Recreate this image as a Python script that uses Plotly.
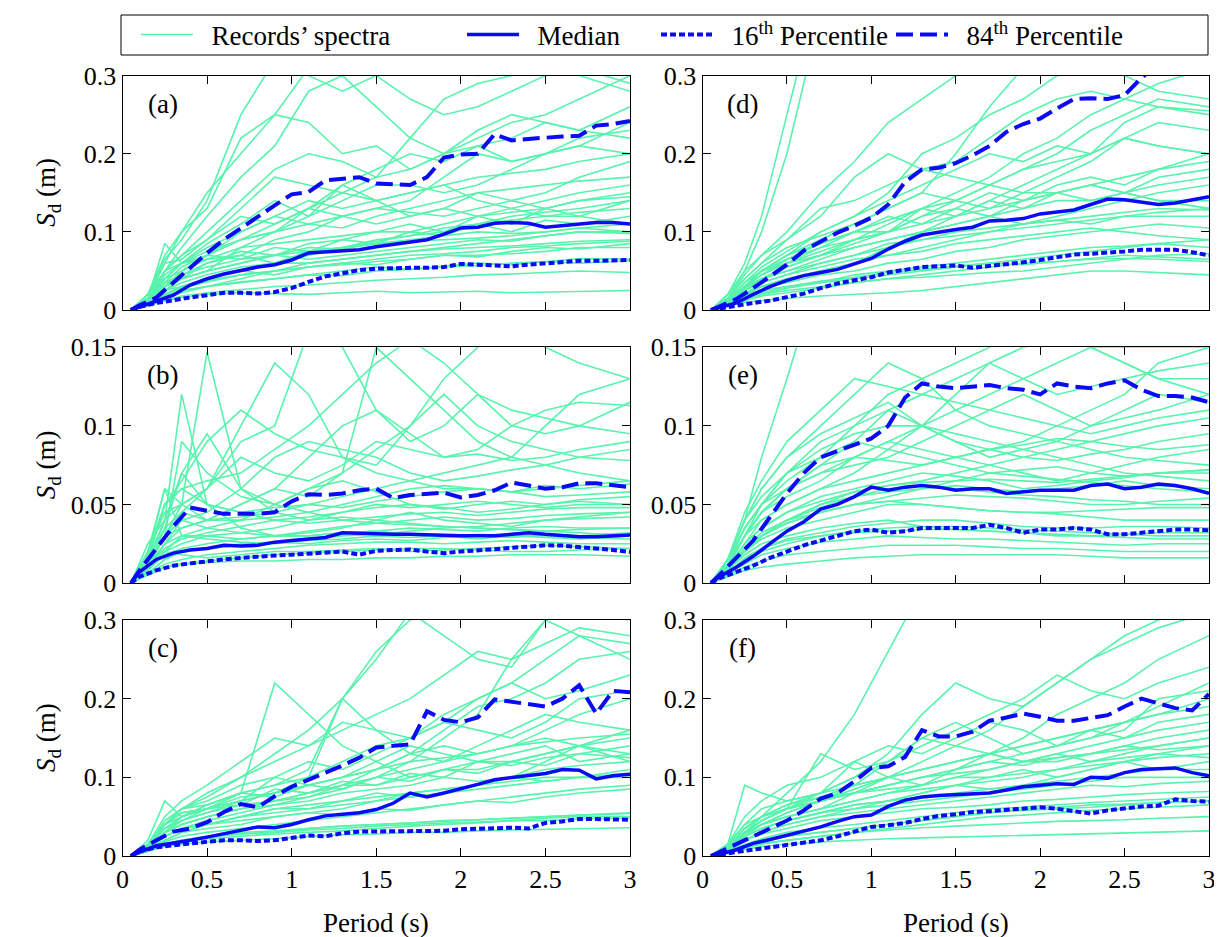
import plotly.graph_objects as go

# ---------------- data ----------------
T_P = [0.05, 0.1, 0.2, 0.3, 0.4, 0.5, 0.6, 0.7, 0.8, 0.9, 1.0, 1.1, 1.2, 1.3, 1.4, 1.5,
       1.6, 1.7, 1.8, 1.9, 2.0, 2.1, 2.2, 2.3, 2.4, 2.5, 2.6, 2.7, 2.8, 2.9, 3.0]
T_REC = [0.05, 0.15, 0.25, 0.35, 0.5, 0.7, 0.9, 1.1, 1.3, 1.5, 1.7, 1.9, 2.1, 2.3, 2.5, 2.7, 3.0]

MED_A = [0, .004, .011, .019, .032, .04, .046, .051, .055, .058, .064, .073, .074, .075, .077, .081,
         .084, .087, .09, .097, .105, .106, .111, .112, .111, .106, .108, .111, .112, .112, .11]
P16_A = [0, .004, .009, .013, .016, .019, .022, .022, .021, .023, .028, .036, .043, .047, .051, .053,
         .054, .054, .054, .055, .059, .058, .056, .056, .058, .06, .062, .063, .063, .064, .064]
P84_A = [0, .006, .016, .035, .055, .073, .09, .105, .12, .134, .148, .151, .166, .168, .17, .162,
         .161, .16, .17, .195, .199, .2, .225, .217, .219, .221, .222, .223, .236, .238, .242]

MED_B = [0, .007, .015, .019, .021, .022, .024, .0235, .024, .026, .027, .028, .029, .032, .0315, .031,
         .031, .031, .0305, .03, .03, .03, .03, .031, .032, .031, .03, .0295, .0295, .03, .0305]
P16_B = [0, .004, .008, .011, .0125, .014, .015, .016, .017, .0175, .018, .0185, .019, .02, .018, .0205,
         .021, .0213, .02, .019, .02, .0205, .0215, .0224, .0235, .024, .0238, .023, .0222, .021, .0198]
P84_B = [0, .008, .022, .036, .048, .046, .044, .044, .044, .045, .052, .0565, .056, .057, .059, .06,
         .054, .056, .057, .0575, .0545, .056, .059, .064, .062, .06, .061, .0635, .0635, .062, .061]

MED_C = [0, .005, .013, .016, .02, .024, .028, .033, .037, .036, .04, .046, .051, .053, .055, .059,
         .067, .08, .075, .08, .085, .091, .097, .1, .102, .105, .11, .109, .098, .102, .104]
P16_C = [0, .006, .011, .014, .016, .018, .02, .02, .019, .02, .023, .026, .025, .029, .031, .031,
         .032, .032, .032, .032, .034, .035, .036, .036, .035, .042, .044, .047, .047, .046, .046]
P84_C = [0, .008, .02, .031, .035, .043, .056, .066, .062, .076, .088, .097, .105, .115, .125, .138,
         .14, .142, .184, .173, .17, .176, .199, .196, .192, .19, .2, .217, .181, .21, .208]

MED_D = [0, .003, .009, .02, .03, .038, .044, .048, .052, .059, .066, .078, .088, .096, .1, .103,
         .106, .114, .115, .117, .123, .126, .128, .135, .142, .141, .138, .135, .137, .141, .145]
P16_D = [0, .002, .006, .009, .012, .016, .021, .028, .034, .038, .042, .048, .052, .055, .056, .057,
         .054, .056, .058, .061, .064, .068, .071, .072, .073, .075, .077, .077, .077, .074, .07]
P84_D = [0, .005, .014, .028, .043, .058, .076, .088, .099, .108, .118, .135, .164, .18, .182, .188,
         .198, .21, .228, .238, .245, .258, .27, .271, .27, .275, .297, .315, .325, .33, .335]

MED_E = [0, .004, .01, .017, .025, .033, .039, .047, .05, .055, .061, .059, .061, .062, .061, .059,
         .06, .06, .057, .058, .059, .059, .059, .062, .063, .06, .061, .063, .062, .06, .057]
P16_E = [0, .003, .007, .011, .016, .02, .024, .027, .03, .033, .034, .032, .033, .035, .035, .035,
         .035, .037, .035, .032, .034, .034, .035, .034, .031, .031, .032, .033, .034, .034, .0335]
P84_E = [0, .005, .016, .027, .042, .057, .07, .08, .084, .088, .092, .1, .118, .127, .125, .124,
         .125, .126, .124, .123, .12, .127, .125, .124, .127, .129, .123, .119, .119, .118, .115]

MED_F = [0, .002, .008, .016, .021, .026, .031, .037, .044, .05, .052, .063, .071, .075, .077, .078,
         .079, .08, .084, .088, .09, .092, .091, .1, .099, .106, .11, .111, .112, .106, .102]
P16_F = [0, .002, .005, .008, .011, .014, .017, .02, .025, .031, .037, .039, .042, .047, .051, .053,
         .056, .057, .059, .06, .062, .06, .057, .054, .058, .061, .063, .064, .072, .07, .069]
P84_F = [0, .005, .014, .024, .035, .045, .058, .073, .08, .095, .112, .114, .126, .16, .152, .152,
         .158, .172, .176, .181, .177, .172, .172, .176, .179, .19, .2, .194, .188, .185, .206]

REC_A = [
    [0, .006, .012, .016, .02, .022, .021, .02, .022, .024, .022, .023, .024, .022, .023, .024, .025],
    [0, .005, .012, .018, .022, .026, .03, .032, .035, .038, .04, .042, .045, .046, .048, .05, .048],
    [0, .008, .018, .025, .03, .035, .04, .045, .05, .055, .052, .056, .06, .058, .062, .066, .065],
    [0, .01, .02, .028, .036, .045, .05, .06, .065, .07, .075, .078, .08, .082, .085, .088, .09],
    [0, .012, .025, .04, .05, .06, .07, .08, .078, .085, .09, .095, .1, .098, .1, .105, .1],
    [0, .015, .085, .06, .065, .07, .06, .075, .08, .088, .095, .1, .11, .115, .12, .125, .13],
    [0, .01, .03, .05, .065, .08, .085, .09, .095, .1, .1, .11, .12, .125, .13, .14, .145],
    [0, .012, .04, .06, .08, .1, .12, .11, .105, .12, .13, .14, .15, .155, .16, .165, .17],
    [0, .02, .05, .07, .09, .13, .17, .16, .15, .14, .15, .16, .17, .175, .18, .19, .2],
    [0, .015, .05, .08, .12, .17, .21, .28, .3, .26, .22, .2, .21, .22, .24, .23, .22],
    [0, .02, .06, .1, .15, .2, .25, .31, .33, .35, .34, .32, .3, .31, .33, .34, .35],
    [0, .01, .03, .045, .06, .07, .09, .1, .12, .13, .125, .12, .13, .14, .15, .17, .19],
    [0, .008, .025, .035, .045, .055, .06, .07, .08, .09, .095, .105, .11, .12, .125, .13, .14],
    [0, .01, .03, .04, .05, .08, .1, .13, .15, .17, .22, .27, .29, .3, .32, .3, .28],
    [0, .012, .035, .055, .07, .09, .11, .13, .16, .14, .12, .13, .15, .14, .13, .14, .15],
    [0, .006, .015, .022, .03, .04, .05, .055, .06, .065, .07, .072, .075, .08, .082, .085, .088],
    [0, .015, .04, .06, .075, .09, .1, .11, .12, .13, .14, .17, .2, .19, .2, .21, .24],
    [0, .012, .05, .07, .1, .14, .18, .2, .19, .17, .18, .2, .23, .25, .24, .23, .26],
    [0, .008, .02, .03, .038, .045, .05, .055, .058, .062, .065, .07, .07, .072, .075, .08, .08],
    [0, .01, .03, .05, .07, .1, .12, .14, .13, .14, .15, .16, .14, .13, .12, .12, .11],
    [0, .02, .07, .1, .13, .22, .25, .24, .2, .21, .18, .2, .22, .24, .25, .27, .3],
    [0, .01, .035, .045, .055, .065, .07, .075, .08, .085, .088, .09, .092, .095, .1, .105, .11],
    [0, .007, .02, .03, .04, .05, .06, .06, .065, .07, .075, .08, .085, .09, .095, .1, .1],
    [0, .012, .045, .06, .07, .09, .1, .12, .14, .16, .16, .15, .16, .18, .2, .22, .23],
    [0, .01, .03, .04, .06, .075, .07, .085, .09, .1, .11, .1, .12, .11, .13, .12, .14],
    [0, .012, .04, .05, .07, .065, .08, .075, .09, .085, .1, .095, .11, .1, .115, .11, .12],
    [0, .008, .025, .03, .04, .05, .045, .055, .06, .058, .065, .07, .068, .075, .08, .078, .085],
    [0, .015, .06, .065, .09, .12, .11, .13, .12, .11, .12, .13, .12, .13, .14, .15, .16],
    [0, .01, .035, .04, .05, .06, .07, .065, .07, .075, .08, .085, .09, .088, .095, .1, .098],
    [0, .02, .065, .09, .14, .25, .32, .3, .28, .3, .27, .25, .26, .28, .3, .31, .29],
    [0, .006, .018, .025, .03, .036, .04, .045, .044, .05, .052, .055, .057, .06, .062, .06, .063],
    [0, .012, .05, .06, .085, .11, .14, .12, .16, .18, .2, .19, .21, .19, .2, .21, .2],
]
REC_B = [
    [0, .006, .01, .012, .013, .014, .014, .015, .015, .016, .016, .017, .017, .018, .018, .018, .017],
    [0, .01, .02, .018, .016, .018, .02, .02, .021, .022, .02, .021, .022, .023, .024, .023, .022],
    [0, .02, .06, .03, .028, .026, .025, .027, .028, .03, .029, .03, .031, .03, .029, .028, .03],
    [0, .015, .04, .12, .05, .035, .03, .03, .032, .033, .031, .03, .028, .03, .03, .029, .028],
    [0, .025, .04, .05, .147, .06, .045, .04, .042, .04, .038, .036, .035, .034, .033, .034, .035],
    [0, .01, .025, .035, .04, .05, .06, .08, .1, .11, .095, .08, .085, .1, .11, .115, .113],
    [0, .012, .03, .045, .06, .1, .14, .12, .08, .07, .065, .06, .06, .058, .055, .056, .058],
    [0, .008, .02, .03, .035, .04, .05, .06, .07, .15, .13, .11, .09, .08, .075, .07, .065],
    [0, .015, .05, .06, .05, .045, .048, .05, .055, .06, .065, .07, .075, .08, .1, .12, .13],
    [0, .01, .025, .03, .03, .032, .035, .04, .045, .05, .048, .05, .052, .05, .048, .05, .05],
    [0, .006, .015, .02, .022, .025, .026, .028, .03, .031, .033, .035, .036, .038, .04, .041, .042],
    [0, .02, .045, .05, .06, .09, .1, .16, .15, .11, .09, .1, .12, .1, .095, .1, .115],
    [0, .008, .018, .022, .025, .028, .03, .03, .032, .033, .035, .034, .033, .035, .036, .035, .035],
    [0, .012, .03, .035, .04, .04, .042, .045, .05, .055, .06, .062, .06, .058, .06, .062, .065],
    [0, .015, .035, .07, .095, .06, .05, .045, .04, .038, .037, .036, .035, .034, .033, .032, .03],
    [0, .006, .012, .015, .018, .02, .022, .024, .025, .026, .026, .025, .026, .027, .026, .025, .025],
    [0, .01, .03, .04, .045, .06, .08, .09, .085, .08, .07, .065, .068, .072, .075, .08, .085],
    [0, .008, .02, .025, .03, .028, .03, .032, .035, .04, .045, .04, .038, .036, .04, .042, .045],
    [0, .018, .06, .05, .04, .05, .06, .055, .07, .085, .1, .13, .15, .16, .15, .14, .13],
    [0, .005, .01, .012, .014, .016, .018, .019, .02, .021, .022, .022, .021, .02, .02, .021, .022],
    [0, .012, .03, .09, .07, .055, .05, .06, .065, .058, .05, .048, .045, .047, .05, .052, .05],
    [0, .01, .022, .028, .032, .036, .04, .038, .04, .042, .044, .045, .043, .045, .047, .048, .048],
    [0, .012, .04, .07, .05, .045, .04, .042, .045, .048, .05, .047, .05, .052, .05, .053, .055],
    [0, .01, .03, .05, .06, .08, .07, .065, .075, .09, .085, .08, .082, .078, .08, .085, .09],
    [0, .008, .025, .04, .035, .032, .03, .033, .036, .038, .04, .042, .04, .041, .043, .044, .045],
    [0, .015, .05, .065, .09, .11, .095, .085, .08, .075, .1, .12, .1, .09, .085, .08, .078],
    [0, .006, .015, .02, .022, .024, .026, .025, .027, .028, .027, .029, .03, .029, .031, .03, .032],
    [0, .02, .05, .06, .065, .07, .085, .1, .12, .14, .155, .14, .12, .11, .105, .1, .095],
    [0, .01, .035, .045, .04, .042, .045, .05, .048, .052, .055, .058, .06, .058, .062, .06, .063],
]
REC_C = [
    [0, .006, .012, .015, .018, .02, .022, .025, .027, .028, .03, .03, .032, .033, .034, .035, .036],
    [0, .008, .015, .02, .025, .028, .03, .035, .038, .04, .042, .045, .046, .048, .05, .052, .055],
    [0, .01, .025, .035, .04, .05, .06, .065, .07, .075, .08, .085, .09, .095, .1, .1, .1],
    [0, .02, .07, .05, .06, .08, .22, .18, .14, .12, .1, .11, .12, .13, .14, .12, .13],
    [0, .012, .03, .04, .05, .06, .07, .08, .09, .1, .11, .12, .13, .14, .15, .14, .13],
    [0, .015, .04, .06, .08, .1, .13, .16, .2, .26, .3, .32, .34, .33, .32, .31, .3],
    [0, .01, .03, .045, .06, .07, .08, .1, .12, .14, .15, .17, .2, .22, .2, .21, .23],
    [0, .01, .025, .035, .045, .055, .065, .075, .09, .11, .13, .16, .19, .2, .22, .25, .26],
    [0, .012, .035, .05, .065, .08, .09, .11, .2, .25, .31, .28, .25, .24, .3, .32, .33],
    [0, .008, .02, .03, .035, .04, .05, .055, .06, .07, .08, .085, .09, .1, .12, .14, .15],
    [0, .006, .015, .02, .022, .025, .028, .03, .032, .035, .038, .04, .042, .045, .045, .047, .048],
    [0, .015, .04, .06, .07, .09, .1, .12, .11, .13, .15, .17, .16, .15, .17, .2, .21],
    [0, .01, .03, .04, .05, .06, .07, .08, .09, .09, .1, .11, .11, .12, .13, .14, .16],
    [0, .012, .045, .06, .075, .1, .12, .14, .17, .16, .15, .18, .2, .22, .25, .28, .27],
    [0, .008, .018, .025, .03, .035, .04, .045, .05, .055, .06, .065, .07, .075, .08, .085, .09],
    [0, .012, .04, .06, .065, .08, .09, .1, .2, .16, .13, .12, .14, .16, .18, .17, .16],
    [0, .01, .03, .05, .06, .07, .08, .09, .1, .12, .14, .13, .12, .12, .13, .14, .12],
    [0, .006, .015, .02, .024, .028, .03, .033, .035, .038, .04, .042, .043, .045, .048, .05, .05],
    [0, .014, .04, .055, .06, .065, .07, .075, .085, .1, .12, .15, .18, .25, .3, .28, .25],
    [0, .01, .025, .035, .04, .05, .06, .06, .07, .08, .075, .08, .09, .1, .095, .1, .11],
    [0, .012, .03, .045, .055, .07, .1, .09, .1, .11, .13, .14, .13, .14, .16, .18, .2],
    [0, .01, .02, .03, .04, .05, .055, .06, .065, .07, .075, .08, .085, .09, .095, .1, .105],
    [0, .01, .04, .05, .065, .08, .075, .09, .085, .1, .095, .11, .105, .12, .115, .13, .125],
    [0, .012, .035, .045, .055, .065, .085, .08, .095, .09, .105, .1, .12, .115, .125, .13, .14],
    [0, .008, .025, .035, .04, .045, .05, .055, .052, .06, .058, .065, .07, .068, .075, .08, .085],
    [0, .015, .05, .07, .09, .12, .15, .14, .16, .18, .2, .23, .26, .25, .27, .29, .28],
    [0, .01, .03, .04, .05, .06, .065, .07, .08, .085, .09, .1, .095, .1, .11, .115, .12],
    [0, .012, .04, .055, .06, .075, .08, .09, .1, .11, .12, .125, .13, .14, .145, .15, .155],
    [0, .006, .015, .02, .025, .03, .032, .035, .038, .04, .042, .044, .046, .048, .05, .052, .054],
]
REC_D = [
    [0, .005, .01, .012, .015, .018, .02, .022, .025, .03, .035, .04, .045, .05, .05, .048, .045],
    [0, .006, .012, .018, .022, .028, .035, .04, .045, .05, .055, .06, .062, .065, .066, .065, .062],
    [0, .008, .015, .025, .03, .035, .045, .05, .055, .06, .065, .07, .075, .08, .082, .085, .08],
    [0, .02, .06, .12, .25, .42, .45, .45, .45, .45, .45, .45, .45, .45, .45, .45, .45],
    [0, .015, .05, .1, .2, .38, .45, .45, .45, .45, .45, .45, .45, .45, .45, .45, .45],
    [0, .012, .03, .05, .07, .1, .12, .15, .2, .22, .25, .27, .3, .31, .3, .28, .27],
    [0, .01, .025, .04, .055, .07, .09, .11, .13, .15, .17, .2, .22, .25, .27, .29, .31],
    [0, .01, .02, .03, .04, .05, .06, .08, .1, .12, .13, .14, .15, .16, .15, .14, .13],
    [0, .012, .03, .045, .06, .08, .1, .12, .11, .12, .14, .16, .18, .2, .22, .21, .2],
    [0, .008, .018, .03, .04, .05, .06, .07, .08, .09, .1, .11, .115, .12, .125, .13, .128],
    [0, .015, .04, .06, .09, .12, .17, .2, .18, .19, .22, .25, .27, .28, .27, .26, .25],
    [0, .01, .025, .035, .045, .06, .07, .08, .09, .095, .1, .105, .11, .115, .12, .12, .12],
    [0, .012, .035, .05, .065, .085, .1, .1, .12, .14, .16, .18, .19, .2, .24, .26, .255],
    [0, .006, .014, .02, .025, .03, .035, .04, .042, .045, .048, .05, .055, .06, .065, .07, .072],
    [0, .01, .03, .05, .07, .09, .11, .13, .15, .2, .26, .31, .33, .34, .35, .36, .36],
    [0, .012, .03, .05, .06, .07, .08, .09, .1, .11, .12, .14, .15, .16, .17, .18, .19],
    [0, .015, .045, .07, .09, .13, .14, .16, .18, .17, .16, .15, .15, .14, .15, .16, .17],
    [0, .008, .02, .03, .035, .045, .05, .06, .065, .075, .08, .09, .095, .1, .105, .11, .105],
    [0, .01, .03, .045, .06, .075, .09, .1, .11, .13, .12, .11, .12, .13, .14, .15, .16],
    [0, .02, .05, .07, .1, .15, .19, .24, .27, .3, .32, .33, .34, .34, .33, .32, .31],
    [0, .007, .015, .02, .028, .035, .04, .045, .05, .055, .06, .065, .07, .075, .08, .085, .09],
    [0, .01, .025, .04, .05, .065, .08, .09, .1, .11, .12, .13, .14, .14, .15, .14, .14],
    [0, .012, .03, .04, .055, .07, .085, .1, .13, .14, .13, .15, .17, .19, .22, .24, .23],
    [0, .01, .03, .05, .07, .085, .1, .115, .13, .12, .14, .13, .15, .16, .15, .17, .18],
    [0, .012, .035, .055, .075, .1, .12, .14, .16, .18, .2, .19, .21, .2, .22, .21, .2],
    [0, .008, .02, .035, .045, .055, .065, .07, .075, .085, .09, .095, .1, .105, .1, .095, .09],
    [0, .015, .04, .06, .08, .095, .11, .13, .15, .14, .16, .18, .2, .23, .25, .27, .26],
    [0, .01, .028, .04, .05, .06, .07, .085, .09, .1, .105, .11, .115, .11, .12, .125, .13],
    [0, .012, .03, .045, .065, .08, .09, .1, .12, .13, .15, .14, .16, .17, .16, .18, .2],
    [0, .006, .015, .022, .03, .037, .042, .048, .052, .056, .06, .058, .062, .066, .07, .068, .065],
]
REC_E = [
    [0, .004, .008, .01, .012, .014, .016, .017, .018, .018, .018, .018, .018, .017, .016, .016, .016],
    [0, .005, .01, .014, .018, .02, .022, .024, .024, .024, .023, .022, .022, .021, .02, .02, .02],
    [0, .006, .012, .018, .022, .026, .028, .03, .029, .028, .028, .027, .026, .025, .024, .025, .025],
    [0, .008, .018, .025, .03, .035, .038, .04, .036, .034, .033, .032, .03, .03, .031, .032, .032],
    [0, .01, .02, .03, .04, .045, .05, .052, .05, .048, .046, .045, .044, .042, .04, .04, .04],
    [0, .015, .04, .08, .13, .2, .22, .22, .22, .22, .22, .22, .22, .22, .22, .22, .22],
    [0, .015, .035, .05, .065, .08, .1, .12, .13, .14, .15, .16, .155, .15, .14, .13, .12],
    [0, .012, .03, .045, .06, .075, .09, .11, .1, .09, .08, .085, .09, .1, .11, .12, .115],
    [0, .01, .025, .035, .045, .055, .06, .065, .07, .068, .065, .06, .062, .065, .067, .07, .072],
    [0, .01, .02, .03, .04, .05, .055, .06, .062, .06, .058, .056, .055, .053, .052, .05, .05],
    [0, .015, .04, .06, .08, .1, .12, .14, .13, .11, .1, .095, .09, .085, .08, .078, .075],
    [0, .01, .03, .04, .05, .06, .07, .085, .1, .12, .14, .15, .155, .15, .14, .13, .13],
    [0, .012, .03, .045, .055, .065, .08, .09, .085, .08, .075, .07, .065, .07, .075, .08, .085],
    [0, .008, .02, .028, .035, .04, .045, .05, .05, .048, .046, .045, .045, .046, .047, .048, .048],
    [0, .01, .025, .04, .05, .06, .065, .07, .075, .08, .085, .09, .1, .11, .12, .14, .15],
    [0, .007, .015, .022, .028, .032, .036, .038, .04, .04, .038, .036, .035, .035, .036, .036, .035],
    [0, .012, .035, .05, .07, .09, .1, .11, .12, .115, .11, .105, .1, .095, .1, .105, .11],
    [0, .01, .02, .03, .04, .048, .055, .058, .06, .062, .06, .058, .06, .062, .065, .062, .06],
    [0, .015, .04, .055, .07, .085, .095, .1, .1, .095, .09, .085, .08, .075, .07, .068, .065],
    [0, .006, .014, .02, .025, .03, .033, .035, .036, .036, .035, .034, .033, .032, .031, .03, .03],
    [0, .012, .03, .05, .06, .07, .08, .09, .1, .11, .12, .13, .14, .15, .15, .15, .15],
    [0, .008, .02, .03, .038, .045, .05, .055, .06, .065, .07, .068, .066, .064, .062, .06, .058],
    [0, .01, .022, .032, .04, .05, .058, .062, .065, .07, .075, .08, .085, .09, .095, .1, .105],
    [0, .012, .035, .05, .07, .08, .09, .085, .08, .075, .07, .072, .074, .07, .068, .07, .072],
    [0, .01, .03, .045, .06, .07, .075, .08, .09, .1, .11, .12, .11, .1, .105, .11, .12],
    [0, .015, .045, .065, .09, .11, .13, .125, .12, .13, .14, .13, .12, .125, .13, .135, .14],
    [0, .008, .022, .03, .038, .045, .05, .052, .054, .056, .055, .054, .052, .05, .05, .052, .054],
    [0, .012, .03, .045, .06, .075, .08, .078, .075, .08, .085, .08, .078, .082, .085, .09, .095],
    [0, .01, .025, .035, .045, .052, .058, .062, .064, .065, .066, .065, .064, .066, .068, .07, .07],
    [0, .006, .016, .022, .027, .03, .032, .033, .034, .034, .033, .032, .031, .03, .029, .028, .028],
    [0, .015, .04, .06, .08, .095, .105, .115, .1, .09, .085, .088, .092, .09, .087, .085, .088],
]
REC_F = [
    [0, .004, .008, .012, .015, .018, .02, .022, .023, .024, .025, .026, .027, .028, .029, .03, .032],
    [0, .005, .01, .015, .02, .025, .03, .033, .036, .038, .04, .042, .044, .045, .046, .048, .05],
    [0, .006, .012, .018, .025, .03, .035, .04, .045, .05, .055, .058, .06, .062, .065, .068, .07],
    [0, .01, .03, .05, .08, .12, .18, .26, .34, .4, .42, .42, .42, .42, .42, .42, .42],
    [0, .015, .09, .08, .07, .08, .09, .1, .11, .12, .13, .14, .15, .16, .17, .18, .2],
    [0, .012, .03, .045, .06, .075, .09, .1, .11, .12, .13, .14, .15, .16, .17, .18, .19],
    [0, .01, .025, .04, .055, .07, .08, .09, .1, .11, .12, .13, .14, .15, .16, .2, .21],
    [0, .015, .04, .06, .07, .08, .12, .1, .09, .11, .13, .15, .18, .2, .22, .25, .28],
    [0, .01, .03, .045, .06, .13, .11, .12, .15, .14, .13, .12, .12, .13, .14, .15, .16],
    [0, .008, .02, .03, .04, .05, .06, .065, .07, .075, .08, .085, .09, .095, .1, .1, .1],
    [0, .012, .035, .05, .065, .08, .1, .13, .18, .22, .2, .19, .22, .25, .28, .3, .32],
    [0, .01, .025, .035, .045, .055, .065, .07, .075, .08, .085, .09, .095, .1, .105, .11, .12],
    [0, .012, .03, .04, .05, .06, .08, .1, .12, .14, .16, .19, .22, .25, .27, .29, .31],
    [0, .008, .02, .028, .035, .045, .05, .055, .06, .062, .065, .07, .072, .075, .078, .08, .082],
    [0, .01, .03, .04, .055, .07, .08, .09, .1, .105, .11, .12, .125, .13, .135, .14, .15],
    [0, .015, .04, .05, .06, .07, .09, .12, .15, .17, .15, .13, .14, .16, .15, .17, .18],
    [0, .007, .015, .022, .03, .036, .04, .045, .05, .055, .06, .062, .065, .068, .07, .072, .075],
    [0, .012, .035, .05, .06, .08, .1, .12, .14, .16, .18, .2, .23, .21, .2, .22, .24],
    [0, .01, .025, .035, .045, .055, .06, .07, .08, .09, .095, .1, .11, .115, .12, .125, .13],
    [0, .012, .03, .045, .06, .07, .08, .085, .09, .1, .1, .11, .1, .11, .12, .11, .11],
    [0, .006, .012, .016, .02, .025, .03, .035, .04, .045, .05, .052, .055, .058, .06, .062, .065],
    [0, .01, .028, .04, .05, .06, .07, .08, .09, .1, .11, .12, .13, .14, .15, .16, .17],
    [0, .012, .035, .05, .065, .075, .08, .09, .1, .11, .12, .115, .125, .13, .14, .135, .14],
    [0, .01, .03, .04, .05, .06, .07, .08, .085, .09, .1, .105, .11, .12, .125, .13, .14],
    [0, .008, .02, .03, .04, .05, .055, .06, .065, .07, .075, .08, .085, .09, .088, .092, .095],
    [0, .015, .05, .07, .09, .1, .12, .14, .13, .15, .17, .16, .14, .15, .17, .19, .22],
    [0, .01, .025, .035, .045, .055, .065, .07, .08, .09, .085, .09, .1, .11, .12, .13, .125],
    [0, .012, .03, .045, .06, .07, .085, .1, .11, .12, .13, .12, .13, .12, .13, .14, .15],
    [0, .006, .014, .02, .025, .03, .035, .04, .045, .05, .055, .06, .062, .065, .066, .068, .07],
]

PANEL_LABELS = ["(a)", "(b)", "(c)", "(d)", "(e)", "(f)"]
Y_MAX = [0.3, 0.15, 0.3, 0.3, 0.15, 0.3]
Y_DTICK = [0.1, 0.05, 0.1, 0.1, 0.05, 0.1]
X_TICKS = [0, 0.5, 1, 1.5, 2, 2.5, 3]
LEGEND_NAMES = ["\u00a0\u00a0Records’ spectra", "\u00a0\u00a0Median",
                "\u00a0\u00a016<sup>th</sup> Percentile", "\u00a0\u00a084<sup>th</sup> Percentile"]

# ---------------- styling ----------------
W, H = 1222, 937
FONT = "Liberation Serif"
REC_COLOR = "rgb(88,243,172)"
BLUE = "rgb(10,10,245)"
TICK_SIZE = 26
TEXT_SIZE = 27

COL_X = [(114.5, 622.0), (694.5, 1201.0)]
ROW_Y = [(67.6, 302.0), (339.3, 575.0), (612.0, 848.0)]

panels = [
    (REC_A, MED_A, P16_A, P84_A),
    (REC_B, MED_B, P16_B, P84_B),
    (REC_C, MED_C, P16_C, P84_C),
    (REC_D, MED_D, P16_D, P84_D),
    (REC_E, MED_E, P16_E, P84_E),
    (REC_F, MED_F, P16_F, P84_F),
]

fig = go.Figure()
layout = dict(
    template="none",
    width=W, height=H,
    margin=dict(l=0, r=0, t=0, b=0, autoexpand=False),
    paper_bgcolor="white", plot_bgcolor="white",
    font=dict(family=FONT, size=TEXT_SIZE, color="black"),
    showlegend=True,
)
annotations = []

for i, (recs, med, p16, p84) in enumerate(panels):
    col, row = i // 3, i % 3
    n = "" if i == 0 else str(i + 1)
    xref, yref = "x" + n, "y" + n
    x0, x1 = COL_X[col]
    ytop, ybot = ROW_Y[row]
    layout["xaxis" + n] = dict(
        domain=[x0 / W, x1 / W], anchor=yref, range=[0, 3], automargin=False,
        tickvals=X_TICKS, ticks="inside", ticklen=8, tickwidth=1, tickcolor="black",
        showline=True, linecolor="black", linewidth=1.2, mirror="ticks",
        showgrid=False, zeroline=False, showticklabels=(row == 2),
        tickfont=dict(family=FONT, size=TICK_SIZE, color="black"),
    )
    layout["yaxis" + n] = dict(
        domain=[1 - ybot / H, 1 - ytop / H], anchor=xref, range=[0, Y_MAX[i]], automargin=False,
        dtick=Y_DTICK[i], tick0=0, ticks="inside", ticklen=8, tickwidth=1, tickcolor="black",
        showline=True, linecolor="black", linewidth=1.2, mirror="ticks",
        showgrid=False, zeroline=False,
        tickfont=dict(family=FONT, size=TICK_SIZE, color="black"),
    )
    for k, r in enumerate(recs):
        fig.add_trace(go.Scatter(
            x=T_REC, y=r, xaxis=xref, yaxis=yref, mode="lines",
            line=dict(color=REC_COLOR, width=1.6),
            name=LEGEND_NAMES[0], legend="legend", showlegend=(i == 0 and k == 0),
            hoverinfo="skip"))
    fig.add_trace(go.Scatter(
        x=T_P, y=p16, xaxis=xref, yaxis=yref, mode="lines",
        line=dict(color=BLUE, width=4, dash="6px,3px"),
        name=LEGEND_NAMES[2], legend="legend3", showlegend=(i == 0)))
    fig.add_trace(go.Scatter(
        x=T_P, y=p84, xaxis=xref, yaxis=yref, mode="lines",
        line=dict(color=BLUE, width=4, dash="17px,7px"),
        name=LEGEND_NAMES[3], legend="legend4", showlegend=(i == 0)))
    fig.add_trace(go.Scatter(
        x=T_P, y=med, xaxis=xref, yaxis=yref, mode="lines",
        line=dict(color=BLUE, width=3.5),
        name=LEGEND_NAMES[1], legend="legend2", showlegend=(i == 0)))
    annotations.append(dict(
        text=PANEL_LABELS[i], xref=xref + " domain", yref=yref + " domain",
        x=40 / (x1 - x0), y=1 - 28 / (ybot - ytop), xanchor="center", yanchor="middle",
        showarrow=False, font=dict(family=FONT, size=TEXT_SIZE, color="black")))
    if col == 0:
        annotations.append(dict(
            text="<i>S</i><sub>d</sub> (m)", xref="paper", yref="paper",
            x=40 / W, y=1 - (ytop + ybot) / 2 / H, xanchor="center", yanchor="middle",
            textangle=-90, showarrow=False, font=dict(family=FONT, size=TEXT_SIZE, color="black")))
    if row == 2:
        annotations.append(dict(
            text="Period (s)", xref="paper", yref="paper",
            x=(x0 + x1) / 2 / W, y=1 - 915 / H, xanchor="center", yanchor="middle",
            showarrow=False, font=dict(family=FONT, size=TEXT_SIZE, color="black")))

leg_common = dict(orientation="h", yanchor="middle", y=1 - 27 / H, xanchor="left",
                  bgcolor="rgba(0,0,0,0)", borderwidth=0, itemwidth=52,
                  font=dict(family=FONT, size=TEXT_SIZE, color="black"))
layout["legend"] = dict(x=128 / W, **leg_common)
layout["legend2"] = dict(x=454 / W, **leg_common)
layout["legend3"] = dict(x=648 / W, **leg_common)
layout["legend4"] = dict(x=883 / W, **leg_common)
layout["annotations"] = annotations
layout["shapes"] = [dict(type="rect", xref="paper", yref="paper",
                         x0=113 / W, x1=1200 / W, y0=1 - 47 / H, y1=1 - 7 / H,
                         line=dict(color="black", width=1))]

fig.update_layout(**layout)
fig.write_html("out.html")
